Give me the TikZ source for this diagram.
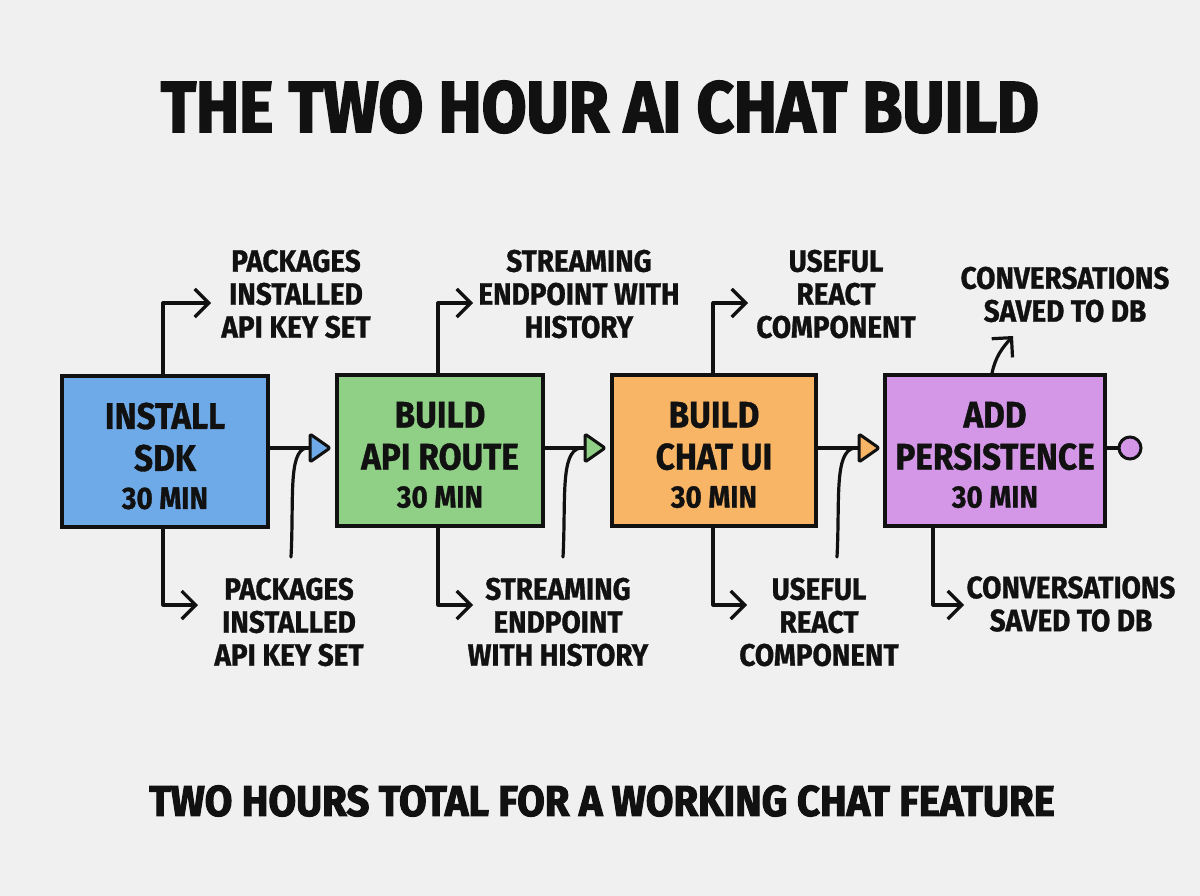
\documentclass[tikz,border=0pt]{standalone}
\usepackage{fontspec}
\setmainfont{Fira Sans}[FakeStretch=0.9]
\newfontfamily\lblfont{Fira Sans}[UprightFont=* Bold, FakeStretch=0.9, FakeBold=1]
\newfontfamily\ttlfont{Fira Sans}[UprightFont=* Bold, FakeStretch=0.9, FakeBold=2.5]
\newfontfamily\ftrfont{Fira Sans}[UprightFont=* Bold, FakeStretch=0.93, FakeBold=2.5]
\usetikzlibrary{arrows.meta,backgrounds}
\definecolor{bg}{HTML}{F0F0F0}
\definecolor{ink}{HTML}{111111}
\definecolor{cblue}{HTML}{6FAAE8}
\definecolor{cgreen}{HTML}{8FCF86}
\definecolor{corange}{HTML}{F8B565}
\definecolor{cpurple}{HTML}{D497E8}
\begin{document}
\begin{tikzpicture}[x=1pt,y=-1pt,
  bx/.style={draw=ink, line width=3.6pt, minimum height=151pt, inner sep=0pt},
  bxt/.style={align=center, text=ink, inner sep=0pt, font=\lblfont\fontsize{37}{42}\selectfont},
  lbl/.style={align=center, text=ink, inner sep=0pt, font=\lblfont\fontsize{31}{33}\selectfont},
  conn/.style={draw=ink, line width=3.2pt, line cap=round, line join=round},
  barb/.style={-{Straight Barb[length=14pt,width=28pt,line width=3.2pt]}},
  trihead/.style={draw=ink, fill=#1, line width=3pt, line join=round, rounded corners=1.5pt},
]
\useasboundingbox[fill=bg] (0,0) rectangle (1200,896);

% title & footer
\node[text=ink, font=\ttlfont\fontsize{72}{76}\selectfont] (title) at (600,107) {THE TWO HOUR AI CHAT BUILD};
\node[text=ink, font=\ftrfont\fontsize{43}{46}\selectfont] (foot) at (602,801) {TWO HOURS TOTAL FOR A WORKING CHAT FEATURE};

% boxes
\node[bx, fill=cblue, minimum width=206pt] (b1) at (165,451.5) {};
\node[bx, fill=cgreen, minimum width=206pt] (b2) at (440,450.5) {};
\node[bx, fill=corange, minimum width=204pt] (b3) at (714,450.5) {};
\node[bx, fill=cpurple, minimum width=220pt] (b4) at (995,450.5) {};

\node[bxt] (b1x) at ([yshift=-4.5pt]b1.center) {INSTALL\\SDK\\[-4pt]{\fontsize{31}{38}\selectfont 30 MIN}};
\node[bxt] (b2x) at ([yshift=-4.5pt]b2.center) {BUILD\\API ROUTE\\[-4pt]{\fontsize{31}{38}\selectfont 30 MIN}};
\node[bxt] (b3x) at ([yshift=-4.5pt]b3.center) {BUILD\\CHAT UI\\[-4pt]{\fontsize{31}{38}\selectfont 30 MIN}};
\node[bxt] (b4x) at ([yshift=-4.5pt]b4.center) {ADD\\PERSISTENCE\\[-4pt]{\fontsize{31}{38}\selectfont 30 MIN}};

\begin{scope}[on background layer]
  \fill[cblue, rounded corners=6pt] ([shift={(-8,-3)}]b1.north west) rectangle ([shift={(4,7)}]b1.south east);
  \fill[cgreen, rounded corners=6pt] ([shift={(-7,-4)}]b2.north west) rectangle ([shift={(7,5)}]b2.south east);
  \fill[corange, rounded corners=6pt] ([shift={(-7,-3)}]b3.north west) rectangle ([shift={(6,7)}]b3.south east);
  \fill[cpurple, rounded corners=6pt] ([shift={(-7,-5)}]b4.north west) rectangle ([shift={(2,7)}]b4.south east);
\end{scope}

% labels
\node[lbl] (l1t) at (296,294) {PACKAGES\\INSTALLED\\API KEY SET};
\node[lbl] (l2t) at (579,294) {STREAMING\\ENDPOINT WITH\\HISTORY};
\node[lbl] (l3t) at (836,294) {USEFUL\\REACT\\COMPONENT};
\node[lbl] (l4t) at (1065,294.5) {CONVERSATIONS\\SAVED TO DB};
\node[lbl] (l1b) at (289,622) {PACKAGES\\INSTALLED\\API KEY SET};
\node[lbl] (l2b) at (558,622) {STREAMING\\ENDPOINT\\WITH HISTORY};
\node[lbl] (l3b) at (819,622) {USEFUL\\REACT\\COMPONENT};
\node[lbl] (l4b) at (1071,604) {CONVERSATIONS\\SAVED TO DB};

% coordinates
\coordinate (t1) at (211,303);
\coordinate (t2) at (473,303);
\coordinate (t3) at (748,303);
\coordinate (t4) at (1013,336);
\coordinate (u1) at (198,605);
\coordinate (u2) at (473,605);
\coordinate (u3) at (747,605);
\coordinate (u4) at (964,605);
\coordinate (d4) at (933,605);
\coordinate (a1) at (310,448);
\coordinate (a2) at (585,448);
\coordinate (a3) at (859,448);
\coordinate (s1) at (291,557);
\coordinate (s2) at (563,557);
\coordinate (s3) at (837,557);
\node[circle, draw=ink, fill=cpurple, line width=3pt, minimum size=22pt, inner sep=0pt] (endc) at (1130,448) {};

% branch connectors
\draw[conn,barb] (b1.north -| 163,0) |- (t1);
\draw[conn,barb] (b2.north -| 438,0) |- (t2);
\draw[conn,barb] (b3.north -| 713,0) |- (t3);
\draw[conn,barb] (b1.south -| 163,0) |- (u1);
\draw[conn,barb] (b2.south -| 438,0) |- (u2);
\draw[conn,barb] (b3.south -| 713,0) |- (u3);
\draw[conn,barb] (b4.south -| d4) |- (u4);
\draw[conn,barb] ([xshift=-3pt]b4.north) to[out=78,in=228] (t4);

% flow arrows
\draw[conn] (a1 -| b1.east) -- (a1);
\draw[trihead=cblue] (a1) -- ++(0,-14) -- ++(20,14) -- ++(-20,14) -- cycle;
\draw[conn] (a2 -| b2.east) -- (a2);
\draw[trihead=cgreen] (a2) -- ++(0,-14) -- ++(20,14) -- ++(-20,14) -- cycle;
\draw[conn] (a3 -| b3.east) -- (a3);
\draw[trihead=corange] (a3) -- ++(0,-14) -- ++(20,14) -- ++(-20,14) -- cycle;
\draw[conn] (b4.east |- endc) -- (endc);

% leaders
\draw[conn] (s1) .. controls (294,500) and (288,452) .. (306,448);
\draw[conn] (s2) .. controls (566,500) and (560,452) .. (580,448);
\draw[conn] (s3) .. controls (840,500) and (834,452) .. (854,448);
\end{tikzpicture}
\end{document}
